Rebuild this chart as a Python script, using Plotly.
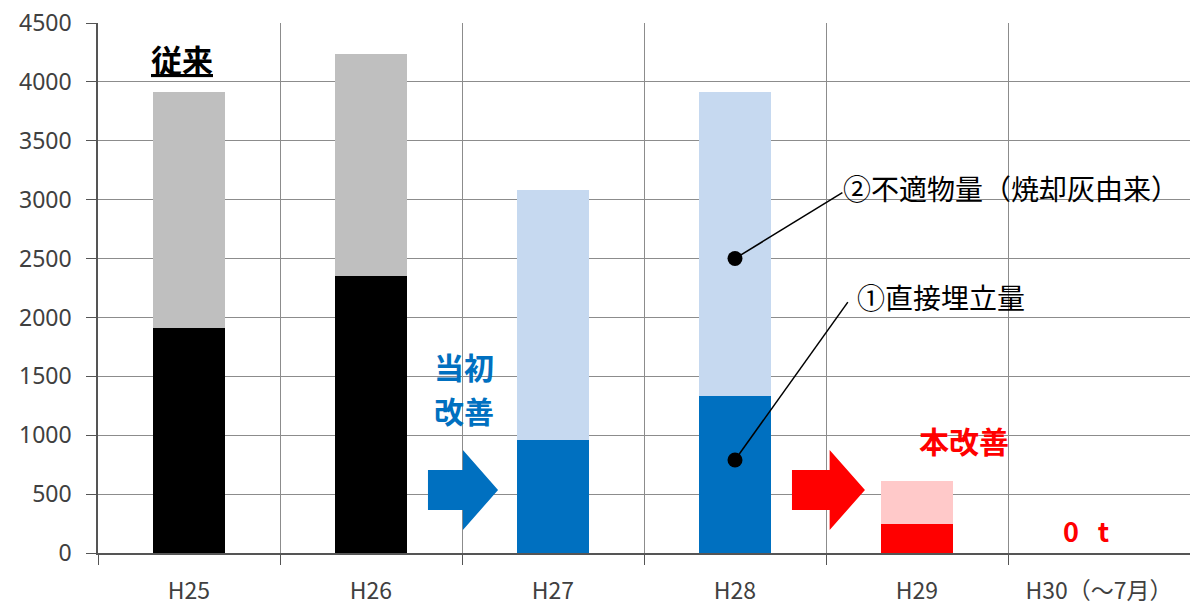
import plotly.graph_objects as go

# Annual landfill amounts (t)
categories = ["H25", "H26", "H27", "H28", "H29", "H30（～7月）"]
direct_landfill = [1910, 2350, 960, 1330, 245, 0]          # ① 直接埋立量
unsuitable_ash = [2000, 1885, 2125, 2580, 367, 0]          # ② 不適物量（焼却灰由来）

bottom_colors = ["#000000", "#000000", "#0070C0", "#0070C0", "#FF0000", "#FF0000"]
top_colors = ["#BFBFBF", "#BFBFBF", "#C6D9F0", "#C6D9F0", "#FFC9C9", "#FFC9C9"]

JP = "Noto Sans CJK JP"
TICK_FONT = dict(family="Noto Sans", size=23, color="#404040")

fig = go.Figure()
fig.add_trace(go.Bar(x=categories, y=direct_landfill, marker=dict(color=bottom_colors, line=dict(width=0)),
                     name="①直接埋立量", hoverinfo="skip"))
fig.add_trace(go.Bar(x=categories, y=unsuitable_ash, marker=dict(color=top_colors, line=dict(width=0)),
                     name="②不適物量", hoverinfo="skip"))

# pointer dots for the two series labels
fig.add_trace(go.Scatter(x=["H28", "H28"], y=[2500, 790], mode="markers",
                         marker=dict(size=15, color="#000000"), hoverinfo="skip", showlegend=False))

shapes = []
# leader lines from dots to labels
shapes.append(dict(type="line", xref="x", yref="y", x0=3, y0=2500, x1=3.59, y1=3060,
                   line=dict(color="#000000", width=1.5)))
shapes.append(dict(type="line", xref="x", yref="y", x0=3, y0=790, x1=3.62, y1=2130,
                   line=dict(color="#000000", width=1.5)))


def arrow_path(xa, xb, xc, yb0, yb1, yh0, yh1):
    ym = (yh0 + yh1) / 2
    return (f"M {xa} {yb0} L {xb} {yb0} L {xb} {yh0} L {xc} {ym} L {xb} {yh1} "
            f"L {xb} {yb1} L {xa} {yb1} Z")


shapes.append(dict(type="path", xref="x", yref="y",
                   path=arrow_path(1.313, 1.505, 1.698, 705, 365, 875, 195),
                   fillcolor="#0070C0", line=dict(width=0)))
shapes.append(dict(type="path", xref="x", yref="y",
                   path=arrow_path(3.313, 3.52, 3.714, 705, 365, 875, 195),
                   fillcolor="#FF0000", line=dict(width=0)))

annotations = [
    dict(x=-0.04, y=4200, text="<b>従来</b>", showarrow=False, xanchor="center", yanchor="middle",
         font=dict(family=JP, size=31, color="#000000", lineposition="under")),
    dict(x=1.51, y=1585, text="<b>当初</b>", showarrow=False, xanchor="center", yanchor="middle",
         font=dict(family=JP, size=30, color="#0070C0")),
    dict(x=1.51, y=1215, text="<b>改善</b>", showarrow=False, xanchor="center", yanchor="middle",
         font=dict(family=JP, size=30, color="#0070C0")),
    dict(x=4.26, y=960, text="<b>本改善</b>", showarrow=False, xanchor="center", yanchor="middle",
         font=dict(family=JP, size=30, color="#FF0000")),
    dict(x=4.93, y=190, text="<b>0\u2002\u2009t</b>", showarrow=False, xanchor="center", yanchor="middle",
         font=dict(family=JP, size=27, color="#FF0000")),
    dict(x=3.58, y=3100, text="②不適物量（焼却灰由来）", showarrow=False, xanchor="left", yanchor="middle",
         font=dict(family=JP, size=28, color="#000000")),
    dict(x=3.66, y=2170, text="①直接埋立量", showarrow=False, xanchor="left", yanchor="middle",
         font=dict(family=JP, size=28, color="#000000")),
]

fig.update_layout(
    width=1190, height=606,
    margin=dict(l=98, r=0, t=23, b=53),
    paper_bgcolor="#FFFFFF", plot_bgcolor="#FFFFFF",
    barmode="stack", bargap=0.6,
    showlegend=False,
    shapes=shapes, annotations=annotations,
    xaxis=dict(type="category", range=[-0.5, 5.5], tickson="boundaries",
               showgrid=True, gridcolor="#8C8C8C", gridwidth=1,
               ticks="outside", ticklen=10, tickcolor="#555555",
               showline=True, linecolor="#555555", linewidth=1.5,
               ticklabelstandoff=17,
               tickfont=dict(family=JP, size=23, color="#404040")),
    yaxis=dict(range=[0, 4500], dtick=500, showgrid=True, gridcolor="#8C8C8C", gridwidth=1,
               ticks="outside", ticklen=10, tickcolor="#555555",
               showline=True, linecolor="#555555", linewidth=1.5,
               ticklabelstandoff=10,
               zeroline=False, tickfont=TICK_FONT),
)

fig.write_html("out.html")
